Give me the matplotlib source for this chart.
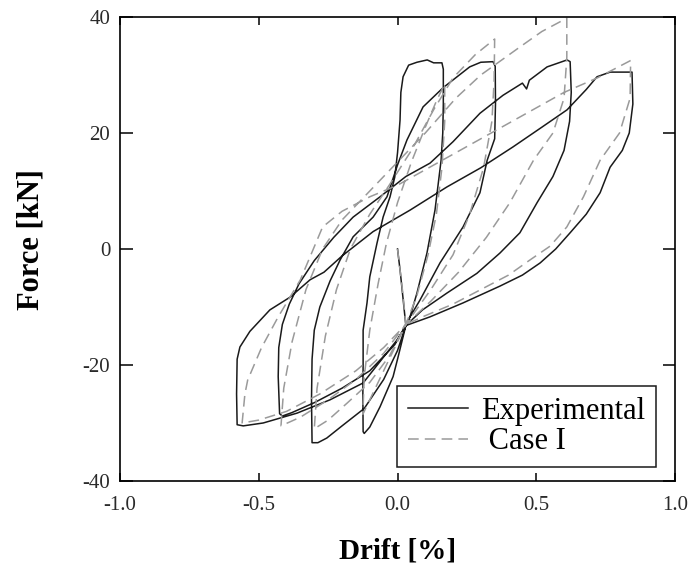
import matplotlib
matplotlib.use('Agg')
import matplotlib.pyplot as plt

plt.rcParams['font.family'] = ['Liberation Serif', 'DejaVu Serif']

# Experimental hysteresis: drift [%] and force [kN], loops in load order
exp_drift = [
    0.0, 0.01, 0.03,
    0.0, -0.016, -0.063, -0.1, -0.12, -0.124,
    -0.125, -0.124, -0.124, -0.11, -0.1, -0.074, -0.052, -0.027, -0.01, 0.0, 0.009, 0.012, 0.02,
    0.04, 0.07, 0.107, 0.13, 0.16, 0.165,
    0.165, 0.163, 0.157, 0.135, 0.106, 0.07, 0.045, 0.03,
    0.0, -0.05, -0.12, -0.2, -0.255, -0.287, -0.308,
    -0.31, -0.308, -0.3, -0.28, -0.243, -0.207, -0.16, -0.088, -0.038, 0.0, 0.034, 0.092, 0.164,
    0.26, 0.30, 0.344, 0.352,
    0.353, 0.35, 0.323, 0.297, 0.236, 0.153, 0.081, 0.045, 0.03,
    -0.01, -0.1, -0.2, -0.3, -0.38, -0.415, -0.425,
    -0.43, -0.428, -0.415, -0.39, -0.355, -0.3, -0.23, -0.16, -0.063, 0.03, 0.117, 0.2, 0.297,
    0.38, 0.45, 0.465, 0.475, 0.539, 0.611,
    0.622, 0.626, 0.62, 0.6, 0.56, 0.503, 0.441, 0.369, 0.286, 0.178, 0.09, 0.03,
    -0.002, -0.124, -0.243, -0.362, -0.484, -0.556, -0.578,
    -0.58, -0.578, -0.568, -0.532, -0.46, -0.387, -0.315, -0.265, -0.2, -0.088, 0.045, 0.178,
    0.3, 0.416, 0.52, 0.611, 0.68, 0.719, 0.766, 0.845,
    0.848, 0.835, 0.81, 0.766, 0.73, 0.68, 0.622, 0.57, 0.514, 0.45, 0.369, 0.236, 0.117, 0.03,
]
exp_force = [
    0.0, -4.0, -13.2,
    -19.0, -22.0, -27.2, -30.7, -31.8, -31.5,
    -25.0, -20.0, -14.0, -9.3, -4.8, 1.0, 5.5, 9.0, 12.4, 16.6, 22.2, 27.0, 29.7,
    31.7, 32.2, 32.6, 32.1, 32.1, 31.0,
    25.0, 20.0, 15.3, 6.7, -0.7, -7.6, -11.7, -13.2,
    -17.5, -22.5, -27.5, -30.5, -32.6, -33.4, -33.4,
    -26.0, -19.0, -14.0, -10.0, -5.5, -1.9, 2.1, 5.5, 9.0, 14.5, 18.8, 24.5, 27.8,
    31.4, 32.2, 32.3, 31.5,
    25.0, 19.0, 15.3, 9.7, 3.8, -2.4, -8.8, -11.7, -13.2,
    -16.5, -21.0, -24.0, -26.5, -28.2, -28.8, -28.4,
    -22.0, -17.0, -13.0, -9.5, -6.0, -2.0, 2.0, 5.5, 9.0, 12.5, 14.8, 18.5, 23.4,
    26.5, 28.6, 27.6, 29.1, 31.4, 32.6,
    32.3, 27.0, 22.0, 17.0, 12.5, 8.0, 2.8, -0.7, -4.2, -7.6, -10.5, -13.2,
    -15.7, -23.1, -26.0, -28.3, -30.0, -30.5, -30.3,
    -25.0, -19.0, -16.9, -14.2, -10.5, -8.3, -5.3, -4.0, -1.2, 3.0, 6.7, 10.7,
    14.0, 17.6, 21.0, 24.0, 27.5, 29.7, 30.5, 30.5,
    25.0, 20.0, 17.0, 14.1, 9.7, 6.0, 2.8, 0.0, -2.4, -4.5, -6.4, -9.3, -11.7, -13.2,
]

# Numerical model, Case I
case_drift = [
    0.0, 0.02, 0.03,
    -0.02, -0.07, -0.11, -0.125,
    -0.12, -0.1, -0.07, -0.04, 0.0, 0.05, 0.1, 0.14, 0.17,
    0.17, 0.16, 0.14, 0.11, 0.07, 0.03, -0.03, -0.1, -0.18, -0.25, -0.3,
    -0.29, -0.26, -0.22, -0.17, -0.1, -0.03, 0.05, 0.13, 0.2, 0.28, 0.35,
    0.348, 0.34, 0.31, 0.26, 0.2, 0.12, 0.06, 0.03, -0.05, -0.15, -0.25, -0.35, -0.42,
    -0.41, -0.38, -0.33, -0.27, -0.2, -0.1, 0.0, 0.1, 0.21, 0.3, 0.44, 0.52, 0.61,
    0.61, 0.6, 0.56, 0.49, 0.405, 0.32, 0.22, 0.12, 0.03, -0.05, -0.15, -0.28, -0.4, -0.5, -0.56,
    -0.55, -0.54, -0.49, -0.43, -0.35, -0.27, -0.2, -0.1, 0.0, 0.15, 0.3, 0.45, 0.6, 0.72, 0.84,
    0.838, 0.8, 0.73, 0.67, 0.61, 0.55, 0.477, 0.4, 0.3, 0.2, 0.1, 0.03,
]
case_force = [
    0.0, -8.0, -13.0,
    -18.0, -23.0, -27.0, -28.5,
    -22.0, -14.0, -6.0, 1.0, 8.0, 15.0, 21.0, 25.5, 28.5,
    22.0, 14.0, 6.0, -1.0, -8.0, -13.0, -18.5, -23.0, -26.5, -29.5, -31.0,
    -24.0, -15.0, -7.0, 0.0, 6.0, 11.0, 17.0, 24.0, 29.5, 33.5, 36.2,
    29.0, 22.0, 14.0, 6.0, -1.0, -7.0, -11.0, -13.0, -18.0, -22.5, -26.0, -29.0, -30.5,
    -24.0, -16.0, -7.0, 0.0, 5.0, 10.0, 15.0, 20.0, 26.0, 30.0, 34.8, 37.5, 39.8,
    33.0, 26.0, 20.0, 15.3, 8.0, 2.0, -4.0, -9.0, -13.0, -17.0, -21.0, -25.0, -28.0, -29.5, -30.0,
    -25.0, -22.6, -17.0, -11.7, -5.3, 3.8, 6.5, 9.0, 11.0, 15.0, 19.0, 23.0, 27.0, 29.5, 32.5,
    26.0, 20.0, 15.3, 9.0, 3.8, 0.5, -1.9, -4.5, -7.0, -9.5, -11.5, -13.0,
]

x_ticks = [-1.0, -0.5, 0.0, 0.5, 1.0]
y_ticks = [-40, -20, 0, 20, 40]

fig = plt.figure(figsize=(6.91, 5.69), dpi=100)
ax = fig.add_axes([0.1737, 0.1547, 0.8032, 0.8154])

ax.plot(exp_drift, exp_force, color='#1a1a1a', lw=1.1, label='Experimental')
ax.plot(case_drift, case_force, color='#9a9a9a', lw=1.1,
        dashes=(7, 4), label=' Case I')

ax.set_xlim(-1.0, 1.0)
ax.set_ylim(-40, 40)
ax.set_xticks(x_ticks)
ax.set_xticklabels([f'{t:.1f}' for t in x_ticks])
ax.set_yticks(y_ticks)
ax.set_yticklabels([str(t) for t in y_ticks])

ax.tick_params(axis='x', direction='in', top=True, length=6, width=1.1,
               labelsize=15, pad=11, labelcolor='#2a2a2a')
ax.tick_params(axis='y', direction='in', right=True, length=9, width=1.1,
               labelsize=15, pad=7, labelcolor='#2a2a2a')
for s in ax.spines.values():
    s.set_linewidth(1.2)

ax.set_xlabel('Drift [%]', fontsize=21, fontweight='bold', labelpad=16)
ax.set_ylabel('Force [kN]', fontsize=22, fontweight='bold')
ax.yaxis.set_label_coords(-0.134, 0.52)

leg = ax.legend(loc='lower right', bbox_to_anchor=(0.966, 0.03),
                borderaxespad=0, fontsize=22, handlelength=1.95,
                handletextpad=0.45, labelspacing=0.05, borderpad=0.35,
                fancybox=False, edgecolor='#1a1a1a', framealpha=1)
leg.get_frame().set_linewidth(1.1)

fig.savefig('out.png', dpi=100)
